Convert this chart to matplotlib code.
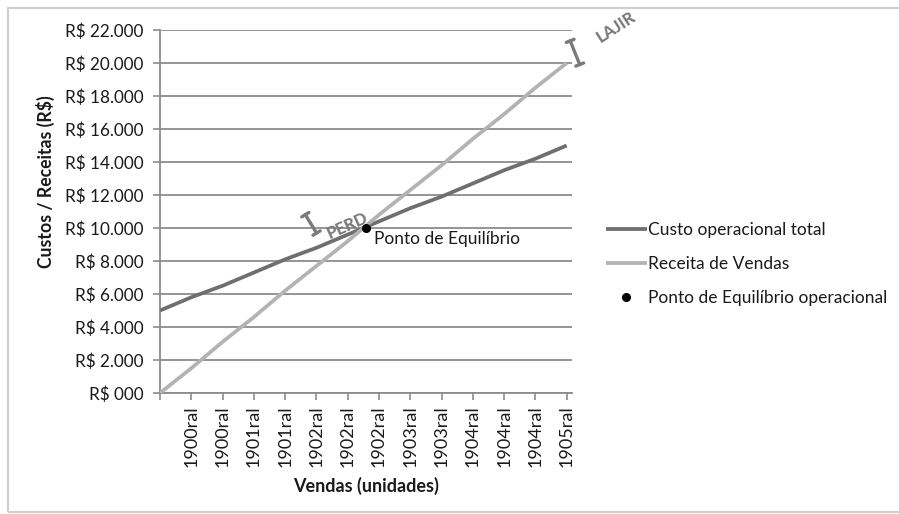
import numpy as np
import matplotlib
matplotlib.use("Agg")
import matplotlib.pyplot as plt
from matplotlib.patches import Rectangle
from matplotlib.ticker import FuncFormatter

plt.rcParams['font.family'] = ['Lato', 'DejaVu Sans']

# values (one value per category slot)
categories = ["", "1900ral", "1900ral", "1901ral", "1901ral", "1902ral", "1902ral",
              "1902ral", "1903ral", "1903ral", "1904ral", "1904ral", "1904ral", "1905ral"]
custo_total = [5000, 5800, 6500, 7300, 8100, 8800, 9600, 10400, 11200, 11900, 12700, 13500, 14200, 15000]
receita = [0, 1500, 3100, 4600, 6200, 7700, 9200, 10800, 12300, 13800, 15400, 16900, 18500, 20000]
equilibrio_x = [6.58]
equilibrio_y = [10000]
y_ticks = np.arange(0, 22001, 2000)

DARK = "#6f6f6f"
LIGHT = "#b3b3b3"
GRID = "#8c8c8c"
MARK = "#7a7a7a"
TXT = "#1a1a1a"

fig = plt.figure(figsize=(8.99, 5.14), dpi=100)
ax = fig.add_axes([160 / 899, 1 - 393 / 514, 412 / 899, 363 / 514])

x = np.arange(len(categories))
l1, = ax.plot(x, custo_total, color=DARK, lw=2.7, solid_capstyle='butt', zorder=3)
l2, = ax.plot(x, receita, color=LIGHT, lw=2.7, solid_capstyle='butt', zorder=3)
pt, = ax.plot(equilibrio_x, equilibrio_y, 'o', color='black', ms=5.5, zorder=5, ls='none')

ax.set_xlim(0, 13.17)
ax.set_ylim(0, 22000)
ax.set_yticks(y_ticks)
ax.yaxis.set_major_formatter(FuncFormatter(
    lambda v, p: "R$ 000" if v == 0 else "R$ {:,.0f}".format(v).replace(",", ".")))
ax.set_xticks(x)
ax.set_xticklabels(categories, rotation=90)
ax.grid(axis='y', color=GRID, lw=1.3)
ax.set_axisbelow(True)

for s in ['top', 'right']:
    ax.spines[s].set_visible(False)
for s in ['left', 'bottom']:
    ax.spines[s].set_color(GRID)
    ax.spines[s].set_linewidth(1.3)
ax.tick_params(axis='both', colors=GRID, width=1.2, length=5, labelcolor=TXT)
ax.tick_params(axis='x', pad=4, labelsize=13)
ax.tick_params(axis='y', pad=7, labelsize=12.3)

fig.text(366 / 899, 1 - 486 / 514, "Vendas (unidades)", ha='center', va='center',
         fontsize=13, fontweight='bold', color=TXT)
fig.text(45 / 899, 1 - 182 / 514, "Custos / Receitas (R$)", ha='center', va='center',
         rotation=90, fontsize=12.7, fontweight='bold', color=TXT)

ax.annotate("Ponto de Equilíbrio", (equilibrio_x[0], equilibrio_y[0]),
            xytext=(6, -2), textcoords='offset points', ha='left', va='top',
            fontsize=12.5, color=TXT)

# PERD / LAJIR marks
ax.annotate("", xy=(4.6, 10950), xytext=(5.05, 9550),
            arrowprops=dict(arrowstyle='|-|,widthA=0.3,widthB=0.3', color=MARK, lw=2.4))
ax.text(6.0, 10150, "PERD", rotation=24, ha='center', va='center', fontsize=12,
        fontweight='black', color=MARK, zorder=2)
ax.annotate("", xy=(13.08, 21500), xytext=(13.45, 19750), annotation_clip=False,
            arrowprops=dict(arrowstyle='|-|,widthA=0.3,widthB=0.3', color=MARK, lw=2.4))
fig.text(616 / 899, 1 - 27 / 514, "LAJIR", rotation=33, ha='center', va='center',
         fontsize=12, fontweight='black', color=MARK)

fig.legend([l1, l2, pt], ["Custo operacional total", "Receita de Vendas",
                          "Ponto de Equilíbrio operacional"],
           loc='upper left', bbox_to_anchor=(590 / 899, 1 - 206 / 514),
           frameon=False, fontsize=12.5, handlelength=2.4, handletextpad=0.05,
           labelspacing=1.05, labelcolor=TXT)

fig.add_artist(Rectangle((8 / 899, 0.003), 0.995, 1 - 8 / 514 - 0.003, transform=fig.transFigure,
                         fill=False, edgecolor="#cfcfcf", lw=1.5))

fig.savefig("out.png", dpi=100)
